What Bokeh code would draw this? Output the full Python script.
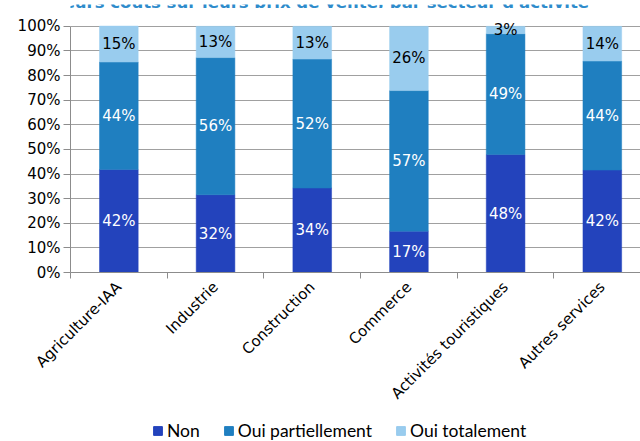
import math
from bokeh.plotting import figure
from bokeh.layouts import column
from bokeh.models import (ColumnDataSource, FixedTicker, Legend, LegendItem, Label,
                          NumeralTickFormatter)
from bokeh.core.properties import value
from bokeh.embed import file_html
from bokeh.resources import INLINE

title_text = "leurs coûts sur leurs prix de vente, par secteur d'activité"
sectors = ["Agriculture-IAA", "Industrie", "Construction", "Commerce",
           "Activités touristiques", "Autres services"]
series_names = ["Non", "Oui partiellement", "Oui totalement"]
non = [41.8, 31.6, 34.3, 16.8, 47.9, 41.6]
oui_partiel = [43.7, 55.7, 52.4, 57.1, 49.1, 44.3]
oui_total = [14.6, 12.7, 13.3, 26.1, 3.0, 14.1]
y_ticks = [0, 10, 20, 30, 40, 50, 60, 70, 80, 90, 100]

colors = ["#2343BC", "#1F7FC0", "#99CCEE"]
label_colors = ["white", "white", "black"]
FONT = "DejaVu Sans"
W = 640
LEFT = 70  # frames of the stacked figures are aligned on the chart's frame

# --- title strip (the reference shows only the lower part of the title) ---
tfig = figure(width=W, height=8, output_backend="svg", toolbar_location=None,
              x_range=(0, W), y_range=(0, 8), min_border=0,
              outline_line_color=None)
tfig.axis.visible = False
tfig.grid.visible = False
tfig.add_layout(Label(x=323 - LEFT, y=10, x_units="screen", y_units="screen", text=title_text,
                      text_align="center", text_baseline="alphabetic",
                      text_font=FONT, text_font_style="bold",
                      text_font_size="16.5px", text_color="#2E8BCB"))

# --- main chart ---
p = figure(width=W, height=410, output_backend="svg", toolbar_location=None,
           x_range=(0, 5.895), y_range=(0, 104),
           min_border_left=LEFT, min_border_right=0, min_border_top=8,
           min_border_bottom=146, outline_line_color=None,
           background_fill_color="white", border_fill_color="white")

xs = [i + 0.5 for i in range(len(sectors))]
series = [non, oui_partiel, oui_total]
bottom = [0.0] * len(sectors)
for name, vals, col, lcol in zip(series_names, series, colors, label_colors):
    top = [b + v for b, v in zip(bottom, vals)]
    mid = [(b + t) / 2 for b, t in zip(bottom, top)]
    src = ColumnDataSource(dict(x=xs, bottom=bottom, top=top, mid=mid,
                                txt=[f"{round(v)}%" for v in vals]))
    p.vbar(x="x", width=0.4, bottom="bottom", top="top", source=src,
           fill_color=col, line_color=col, line_width=0.5)
    p.text(x="x", y="mid", text="txt", source=src, text_align="center",
           text_baseline="middle", text_color=lcol, text_font=value(FONT),
           text_font_size="15px")
    bottom = top

yax = p.yaxis[0]
yax.ticker = FixedTicker(ticks=y_ticks)
yax.bounds = (0, 100)
yax.formatter = NumeralTickFormatter(format="0")
yax.major_label_overrides = {t: f"{t}%" for t in y_ticks}
yax.axis_line_color = "#8C8C8C"
yax.major_tick_line_color = "#8C8C8C"
yax.major_tick_out = 7
yax.major_tick_in = 0
yax.minor_tick_line_color = None
yax.major_label_standoff = 3
yax.major_label_text_font = FONT
yax.major_label_text_font_size = "15px"
yax.major_label_text_color = "black"

xax = p.xaxis[0]
xax.ticker = FixedTicker(ticks=xs, minor_ticks=list(range(len(sectors) + 1)))
xax.major_label_overrides = {x: s for x, s in zip(xs, sectors)}
xax.major_label_orientation = math.pi / 4
xax.axis_line_color = "#8C8C8C"
xax.major_tick_line_color = None
xax.minor_tick_line_color = "#8C8C8C"
xax.minor_tick_out = 6
xax.minor_tick_in = 0
xax.major_label_standoff = 6
xax.major_label_text_font = FONT
xax.major_label_text_font_size = "15px"
xax.major_label_text_color = "black"

p.xgrid.grid_line_color = None
p.ygrid.ticker = FixedTicker(ticks=y_ticks)
p.ygrid.grid_line_color = "#A0A0A0"
p.ygrid.grid_line_width = 1

# --- legend strip ---
lfig = figure(width=W, height=23, output_backend="svg", toolbar_location=None,
              x_range=(0, 1), y_range=(0, 1), min_border=0,
              outline_line_color=None)
lfig.axis.visible = False
lfig.grid.visible = False
dummy = ColumnDataSource(dict(x=[-10], top=[-10]))
lrs = [lfig.vbar(x="x", top="top", width=0.1, source=dummy, fill_color=c, line_color=c)
       for c in colors]
legend = Legend(items=[LegendItem(label=n, renderers=[r]) for n, r in zip(series_names, lrs)],
                orientation="horizontal", location=(152 - LEFT, 0),
                glyph_width=11, glyph_height=11, label_height=10,
                label_standoff=4, spacing=23, padding=0, margin=0,
                border_line_color=None, background_fill_alpha=0,
                label_text_font="Lato", label_text_font_size="17.5px",
                label_text_color="black")
lfig.add_layout(legend, "center")

layout = column(tfig, p, lfig, spacing=0)
open("out.html", "w").write(file_html(layout, INLINE))
